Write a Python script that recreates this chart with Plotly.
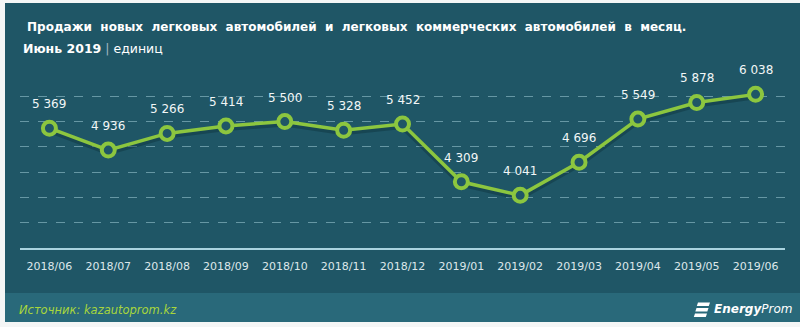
import plotly.graph_objects as go

months = ["2018/06", "2018/07", "2018/08", "2018/09", "2018/10", "2018/11", "2018/12",
          "2019/01", "2019/02", "2019/03", "2019/04", "2019/05", "2019/06"]
sales = [5369, 4936, 5266, 5414, 5500, 5328, 5452, 4309, 4041, 4696, 5549, 5878, 6038]
labels = [f"{v:,}".replace(",", " ") for v in sales]

BG = "#1f5666"
FOOT = "#29697a"
GREEN = "#8cc63f"

W, H = 800, 327
L, R, T, B = 20, 15, 71, 79
PW, PH = W - L - R, H - T - B

def px(x):
    return (x - L) / PW

def py(y):
    return (H - B - y) / PH

fig = go.Figure()
# soft shadow under the line
fig.add_trace(go.Scatter(
    x=months, y=[v - 40 for v in sales], mode="lines",
    line=dict(color="rgba(10,40,50,0.35)", width=6),
    hoverinfo="skip", cliponaxis=False,
))
fig.add_trace(go.Scatter(
    x=months, y=sales, mode="lines+markers",
    line=dict(color=GREEN, width=3.5),
    marker=dict(symbol="circle", size=13, color=BG, line=dict(color=GREEN, width=4)),
    hoverinfo="skip", cliponaxis=False,
))

for m, v, t in zip(months, sales, labels):
    fig.add_annotation(x=m, y=v, text=t, showarrow=False, yshift=24,
                       font=dict(family="DejaVu Sans", size=12, color="#f2f6f7"))

shapes = [
    dict(type="rect", xref="paper", yref="paper", x0=px(5), x1=px(800), y0=py(322), y1=py(3),
         fillcolor=BG, line=dict(width=0), layer="below"),
    dict(type="rect", xref="paper", yref="paper", x0=px(5), x1=px(800), y0=py(322), y1=py(293),
         fillcolor=FOOT, line=dict(width=0), layer="below"),
]
# logo stripes
for i, yy in enumerate([302.5, 308, 313.5]):
    x0 = 696 - i * 1.5
    shapes.append(dict(type="path", xref="paper", yref="paper",
                       path=f"M {px(x0+2)},{py(yy)} L {px(x0+14)},{py(yy)} L {px(x0+12.8)},{py(yy+3.5)} L {px(x0+0.8)},{py(yy+3.5)} Z",
                       fillcolor="#ffffff", line=dict(width=0), layer="above"))

fig.update_layout(shapes=shapes)

fig.add_annotation(xref="paper", yref="paper", x=px(25), y=py(27), xanchor="left", yanchor="middle",
                   text="Продажи  новых  легковых  автомобилей  и  легковых  коммерческих  автомобилей  в  месяц.",
                   showarrow=False, font=dict(family="DejaVu Sans", size=12, color="#ffffff", weight="bold"))
fig.add_annotation(xref="paper", yref="paper", x=px(21), y=py(48), xanchor="left", yanchor="middle",
                   text="<b>Июнь 2019</b> <span style='color:#9fb8c0'>|</span> единиц",
                   showarrow=False, font=dict(family="DejaVu Sans", size=12.5, color="#ffffff"))
fig.add_annotation(xref="paper", yref="paper", x=px(17), y=py(310), xanchor="left", yanchor="middle",
                   text="<i>Источник: kazautoprom.kz</i>",
                   showarrow=False, font=dict(family="DejaVu Sans", size=11.5, color="#a8d63c"))
fig.add_annotation(xref="paper", yref="paper", x=px(794), y=py(309), xanchor="right", yanchor="middle",
                   text="<b><i>Energy</i></b><i>Prom</i>",
                   showarrow=False, font=dict(family="DejaVu Sans", size=12, color="#ffffff"))

fig.update_layout(
    width=W, height=H,
    margin=dict(l=L, r=R, t=T, b=B),
    paper_bgcolor="#f4f6f6",
    plot_bgcolor="rgba(0,0,0,0)",
    showlegend=False,
    xaxis=dict(type="category", categoryorder="array", categoryarray=months,
               range=[-0.5, len(months) - 0.5],
               showgrid=False, showline=True, linecolor="#a9d3df", linewidth=2,
               ticks="", ticklabelstandoff=7,
               tickfont=dict(family="DejaVu Sans", size=11, color="#dde7ea"),
               fixedrange=True),
    yaxis=dict(range=[3000, 6500], dtick=500, showgrid=True, griddash="dash",
               gridcolor="rgba(150,195,205,0.6)", gridwidth=1, zeroline=False,
               showticklabels=False, fixedrange=True),
)

fig.write_html("out.html")
